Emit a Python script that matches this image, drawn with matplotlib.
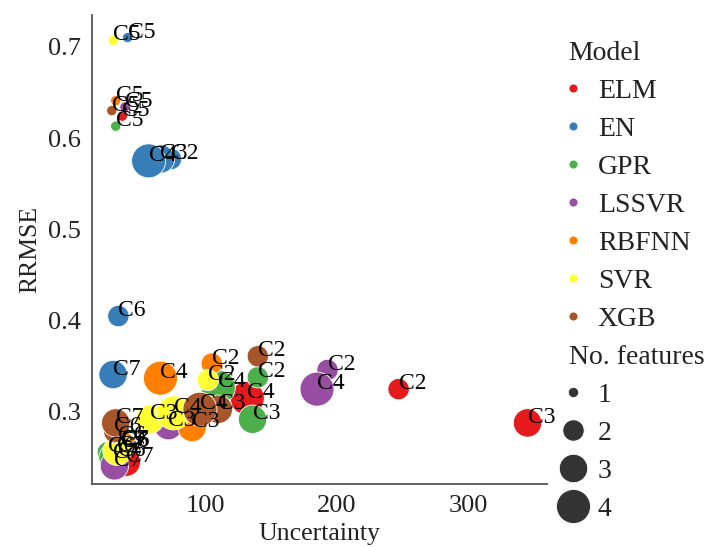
import numpy as np
import pandas as pd
import matplotlib
matplotlib.use("Agg")
import matplotlib.pyplot as plt
import matplotlib.offsetbox as offsetbox
from matplotlib.lines import Line2D
import seaborn as sns

# ---- data -------------------------------------------------------------
model_names = ["ELM", "EN", "GPR", "LSSVR", "RBFNN", "SVR", "XGB"]
case_names = ["C2", "C3", "C4", "C5", "C6", "C7"]
features_per_case = [2, 3, 4, 1, 2, 3]

uncertainty_elm = [247, 345, 132, 37, 36, 40]
uncertainty_en = [74, 66, 57, 41, 34, 30]
uncertainty_gpr = [140, 136, 110, 32, 26, 30]
uncertainty_lssvr = [193, 72, 185, 39, 34, 31]
uncertainty_rbfnn = [105, 90, 66, 32, 34, 36]
uncertainty_svr = [102, 58, 76, 30, 37, 33]
uncertainty_xgb = [140, 110, 96, 29, 31, 32]

rrmse_elm = [0.325, 0.288, 0.315, 0.624, 0.262, 0.245]
rrmse_en = [0.577, 0.577, 0.575, 0.710, 0.405, 0.341]
rrmse_gpr = [0.338, 0.292, 0.327, 0.613, 0.256, 0.250]
rrmse_lssvr = [0.346, 0.285, 0.325, 0.634, 0.252, 0.241]
rrmse_rbfnn = [0.353, 0.283, 0.337, 0.641, 0.268, 0.264]
rrmse_svr = [0.335, 0.292, 0.299, 0.707, 0.263, 0.257]
rrmse_xgb = [0.361, 0.303, 0.303, 0.630, 0.278, 0.288]

x_ticks = [100, 200, 300]
y_ticks = [0.3, 0.4, 0.5, 0.6, 0.7]

# ---- assemble table ---------------------------------------------------
unc_all = [uncertainty_elm, uncertainty_en, uncertainty_gpr, uncertainty_lssvr,
           uncertainty_rbfnn, uncertainty_svr, uncertainty_xgb]
rr_all = [rrmse_elm, rrmse_en, rrmse_gpr, rrmse_lssvr,
          rrmse_rbfnn, rrmse_svr, rrmse_xgb]
rows = []
for m, us, rs in zip(model_names, unc_all, rr_all):
    for c, nf, u, r in zip(case_names, features_per_case, us, rs):
        rows.append({"Model": m, "Case": c, "Uncertainty": u,
                     "RRMSE": r, "No. features": nf})
df = pd.DataFrame(rows)

# ---- style ------------------------------------------------------------
sns.set_style("white")
plt.rcParams["font.family"] = ["Liberation Serif", "DejaVu Serif"]
FS_POINT = 17
FS_TICK = 19
FS_LABEL = 18.5
FS_LEG = 20
palette = sns.color_palette("Set1", len(model_names))
size_range = (55, 600)

fig = plt.figure(figsize=(7.08, 5.47), dpi=100)
ax = fig.add_axes([0.130, 0.115, 0.643, 0.858])

sns.scatterplot(data=df, x="Uncertainty", y="RRMSE", hue="Model",
                hue_order=model_names, size="No. features",
                sizes=size_range, palette=palette, legend=False, ax=ax)

for _, row in df.iterrows():
    ax.text(row["Uncertainty"], row["RRMSE"], row["Case"], fontsize=FS_POINT,
            color="black")

ax.set_xlim(14, 360)
ax.set_ylim(0.221, 0.735)
ax.set_xticks(x_ticks)
ax.set_xticklabels([str(t) for t in x_ticks])
ax.set_yticks(y_ticks)
ax.set_yticklabels([f"{t:.1f}" for t in y_ticks])
ax.tick_params(axis="both", length=0, labelsize=FS_TICK, pad=8, colors="#222222")
ax.set_xlabel("Uncertainty", fontsize=FS_LABEL, labelpad=4, color="#222222")
ax.set_ylabel("RRMSE", fontsize=FS_LABEL, labelpad=5, color="#222222")
for side in ("top", "right"):
    ax.spines[side].set_visible(False)
for side in ("left", "bottom"):
    ax.spines[side].set_color("#555555")
    ax.spines[side].set_linewidth(1.3)

# ---- legend -----------------------------------------------------------
feat_levels = sorted(set(features_per_case))
fmin, fmax = min(feat_levels), max(feat_levels)

def area_for(n):
    return size_range[0] + (n - fmin) / (fmax - fmin) * (size_range[1] - size_range[0])

handles, labels = [], []
handles.append(Line2D([], [], visible=False)); labels.append("Model")
for m, col in zip(model_names, palette):
    handles.append(Line2D([], [], ls="", marker="o", color=col,
                          markersize=np.sqrt(42), markeredgecolor="w",
                          markeredgewidth=0.6))
    labels.append(m)
handles.append(Line2D([], [], visible=False)); labels.append("No. features")
for n in feat_levels:
    handles.append(Line2D([], [], ls="", marker="o", color=".2",
                          markersize=np.sqrt(area_for(n)), markeredgecolor="w",
                          markeredgewidth=0.6))
    labels.append(str(n))

leg = ax.legend(handles, labels, loc="center left",
                bbox_to_anchor=(0.754, 0.486), bbox_transform=fig.transFigure,
                frameon=False, fontsize=FS_LEG, handlelength=1.05,
                handletextpad=0.35, labelspacing=0.45, borderpad=0.4)
for t in leg.get_texts():
    t.set_color("#222222")

# subtitle rows: drop the empty handle slot so the text sits flush left
for hpack in leg.findobj(offsetbox.VPacker)[0].get_children():
    draw_area, text_area = hpack.get_children()
    if not all(a.get_visible() for a in draw_area.get_children()):
        draw_area.set_width(0)

fig.savefig("out.png", dpi=100)
